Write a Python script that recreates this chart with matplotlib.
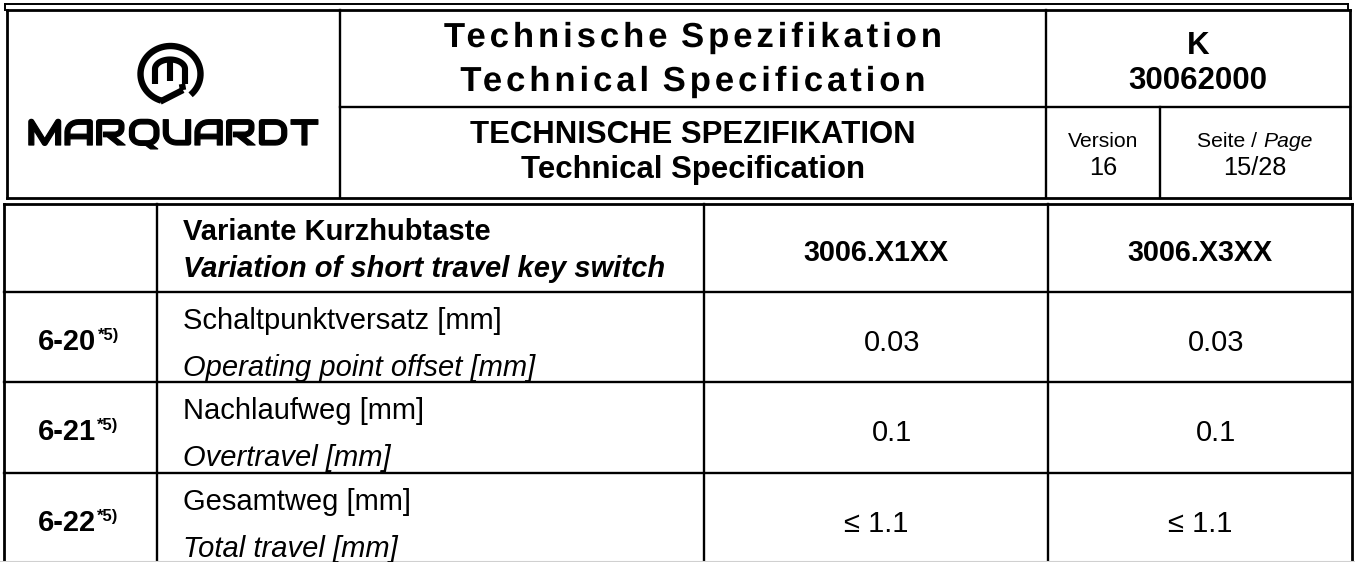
import numpy as np
import matplotlib
matplotlib.use("Agg")
from matplotlib import pyplot as plt
from matplotlib.path import Path
from matplotlib.transforms import Affine2D
from matplotlib.patheffects import AbstractPathEffect

SANS = "Liberation Sans"
LOGO_FONT = ["Audiowide", "DejaVu Sans"]

# header texts
title_de = "Technische Spezifikation"
title_en = "Technical Specification"
sub_de = "TECHNISCHE SPEZIFIKATION"
sub_en = "Technical Specification"
doc_type = "K"
doc_no = "30062000"
version_label = "Version"
version = "16"
page_label = ("Seite /", "Page")
page = "15/28"
logo_word = "MARQUARDT"

# table texts
head_de = "Variante Kurzhubtaste"
head_en = "Variation of short travel key switch"
variants = ["3006.X1XX", "3006.X3XX"]
item_ids = ["6-20", "6-21", "6-22"]
item_note = "*5)"
items_de = ["Schaltpunktversatz [mm]", "Nachlaufweg [mm]", "Gesamtweg [mm]"]
items_en = ["Operating point offset [mm]", "Overtravel [mm]", "Total travel [mm]"]
values_x1 = ["0.03", "0.1", "\u2264 1.1"]
values_x3 = ["0.03", "0.1", "\u2264 1.1"]

# layout in pixels (y grows downwards)
W, H = 1355, 562
hx = [7, 340, 1046, 1160, 1350]      # header columns
hy = [10, 107, 198]                  # header rows
tx = [4, 157, 704, 1048, 1352]       # table columns
ty = [204, 292, 382, 473, 566]       # table rows
val_shift = [16, 16, 0]              # the short values sit a bit right of centre


class Tracking(AbstractPathEffect):
    """letter spacing for a text: extra gap per glyph, or spread to a given width
    (optionally widening each glyph by sx and thickening it by a stroke)"""

    def __init__(self, gap=0.0, width=None, sx=1.0, stroke=0.0):
        super().__init__()
        self.gap, self.width, self.sx, self.stroke = gap, width, sx, stroke

    def draw_path(self, renderer, gc, tpath, affine, rgbFace=None):
        polys = tpath.to_polygons(affine)
        order = sorted(range(len(polys)), key=lambda i: polys[i][:, 0].min())
        groups = []
        for i in order:
            x0, x1 = polys[i][:, 0].min(), polys[i][:, 0].max()
            if groups and (x0 + x1) / 2 < groups[-1][1]:
                groups[-1][1] = max(groups[-1][1], x1)
                groups[-1][2].append(i)
            else:
                groups.append([x0, x1, [i]])
        n = len(groups)
        if n == 0:
            return
        centre = (groups[0][0] + groups[-1][1]) / 2
        verts, codes = [], []
        if self.width is not None:
            widths = [(g[1] - g[0]) * self.sx for g in groups]
            gap = (self.width - sum(widths)) / max(n - 1, 1)
            cursor = centre - self.width / 2
        for k, g in enumerate(groups):
            gmid = (g[0] + g[1]) / 2
            if self.width is not None:
                dx = cursor + widths[k] / 2 - gmid
                cursor += widths[k] + gap
            else:
                dx = k * self.gap - (n - 1) * self.gap / 2
            for i in g[2]:
                p = polys[i].copy()
                p[:, 0] = gmid + (p[:, 0] - gmid) * self.sx + dx
                verts.append(p)
                codes += [Path.MOVETO] + [Path.LINETO] * (len(p) - 2) + [Path.CLOSEPOLY]
        path = Path(np.vstack(verts), codes)
        if self.stroke:
            gc0 = renderer.new_gc()
            gc0.copy_properties(gc)
            gc0.set_linewidth(self.stroke)
            gc0.set_foreground(rgbFace)
            renderer.draw_path(gc0, path, Affine2D(), rgbFace)
            gc0.restore()
        else:
            renderer.draw_path(gc, path, Affine2D(), rgbFace)


fig = plt.figure(figsize=(W / 100, H / 100), dpi=100)
ax = fig.add_axes([0, 0, 1, 1])
ax.set_xlim(0, W)
ax.set_ylim(H, 0)
ax.axis("off")
rend = fig.canvas.get_renderer()

LW = 1.7


def hline(y, x0, x1, lw=LW, color="black"):
    ax.plot([x0, x1], [y, y], color=color, lw=lw, solid_capstyle="projecting")


def vline(x, y0, y1, lw=LW):
    ax.plot([x, x], [y0, y1], color="black", lw=lw, solid_capstyle="projecting")


def txt(x, y, s, size, **kw):
    kw.setdefault("ha", "center")
    return ax.text(x, y, s, va="baseline", family=kw.pop("family", SANS), fontsize=size,
                   color="black", **kw)


def width_of(t):
    return t.get_window_extent(renderer=rend).width


# ---- header frame ----
hline(4, 5, 1348, lw=1.4)
vline(5, 4, 10, lw=1.4)
vline(1348, 4, 10, lw=1.4)
hline(hy[0], hx[0], hx[-1], lw=2.0)
hline(hy[2], hx[0], hx[-1], lw=2.0)
hline(hy[1], hx[1], hx[-1])
vline(hx[0], hy[0], hy[2], lw=2.0)
vline(hx[-1], hy[0], hy[2], lw=2.0)
vline(hx[1], hy[0], hy[2])
vline(hx[2], hy[0], hy[2])
vline(hx[3], hy[1], hy[2])

# ---- logo ----
cx, cy, rx, ry = 170.5, 74, 30, 28
t = np.linspace(np.radians(-48), np.radians(252), 200)
ax.plot(cx + rx * np.cos(t), cy - ry * np.sin(t), color="black", lw=4.6, solid_capstyle="butt")
ax.plot([cx + rx * np.cos(t[-1]) - 1, 183], [cy - ry * np.sin(t[-1]) + 1, 90], color="black",
        lw=4.6, solid_capstyle="butt")
ax.plot([183, 182], [90, 84], color="black", lw=4.6, solid_capstyle="butt")
a = np.linspace(np.pi, 0, 60)
ax.plot(np.r_[155, 155, 170 + 15 * np.cos(a), 185, 185],
        np.r_[84, 69, 69 - 9.5 * np.sin(a), 69, 84], color="black", lw=4.4,
        solid_joinstyle="round", solid_capstyle="butt")
ax.plot([170, 170], [60, 81], color="black", lw=4.4, solid_capstyle="butt")
logo = txt(172.5, 145, logo_word, 26, family=LOGO_FONT)
logo.set_path_effects([Tracking(width=289, sx=1.08, stroke=0.9)])

# ---- header text ----
mid = (hx[1] + hx[2]) / 2
txt(mid, 47, title_de, 25, fontweight="bold").set_path_effects([Tracking(gap=3.9)])
txt(mid, 91, title_en, 25, fontweight="bold").set_path_effects([Tracking(gap=3.9)])
txt(mid, 143, sub_de, 22.4, fontweight="bold")
txt(mid, 178, sub_en, 22.4, fontweight="bold")
kc = (hx[2] + hx[4]) / 2
txt(kc, 54, doc_type, 22.5, fontweight="bold")
txt(kc, 89, doc_no, 22.5, fontweight="bold")
vc = (hx[2] + hx[3]) / 2
txt(vc, 147, version_label, 15.2)
txt(vc, 175, version, 18.3)
pc = (hx[3] + hx[4]) / 2
p1 = txt(0, 147, page_label[0], 15.2, ha="left")
p2 = txt(0, 147, page_label[1], 15.2, ha="left", style="italic")
w1, w2, sp = width_of(p1), width_of(p2), 6
p1.set_x(pc - (w1 + sp + w2) / 2)
p2.set_x(pc - (w1 + sp + w2) / 2 + w1 + sp)
txt(pc, 175, page, 18.3)

# ---- table grid ----
hline(ty[0], tx[0], tx[-1], lw=2.0)
for y in ty[1:-1]:
    hline(y, tx[0], tx[-1])
vline(tx[0], ty[0], ty[-1], lw=2.0)
vline(tx[-1], ty[0], ty[-1], lw=2.0)
for x in tx[1:-1]:
    vline(x, ty[0], ty[-1])
hline(H - 1, 0, W, lw=0.8, color="#d0d0d0")

# ---- table text ----
tl = tx[1] + 26
txt(tl, 240, head_de, 21, ha="left", fontweight="bold")
txt(tl, 277, head_en, 21, ha="left", fontweight="bold", style="italic")
for j, v in enumerate(variants):
    txt((tx[2 + j] + tx[3 + j]) / 2, 261, v, 20.7, fontweight="bold")

ic = (tx[0] + tx[1]) / 2 - 2
for i in range(len(item_ids)):
    y0 = ty[1 + i]
    txt(tl, y0 + 37, items_de[i], 21, ha="left")
    txt(tl, y0 + 84, items_en[i], 21, ha="left", style="italic")
    a1 = txt(0, y0 + 58, item_ids[i], 21, ha="left", fontweight="bold")
    a2 = txt(0, y0 + 48, item_note, 12, ha="left", fontweight="bold")
    w1, w2 = width_of(a1), width_of(a2)
    a1.set_x(ic - (w1 + 1 + w2) / 2)
    a2.set_x(ic - (w1 + 1 + w2) / 2 + w1 + 1)
    txt((tx[2] + tx[3]) / 2 + val_shift[i], y0 + 59, values_x1[i], 21)
    txt((tx[3] + tx[4]) / 2 + val_shift[i], y0 + 59, values_x3[i], 21)

fig.savefig("out.png", dpi=100)
